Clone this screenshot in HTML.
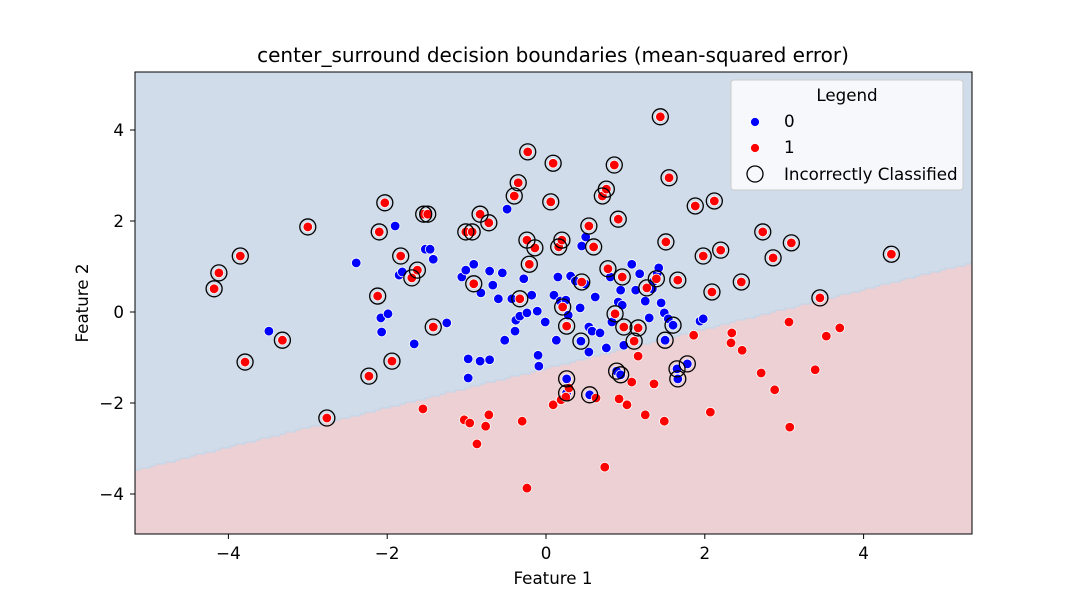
<!DOCTYPE html>
<html><head><meta charset="utf-8"><style>
body{margin:0;background:#fff;}
svg{display:block;font-family:"DejaVu Sans","Liberation Sans",sans-serif;}
</style></head><body>
<svg id="chart" width="1080" height="600" xmlns="http://www.w3.org/2000/svg">
<defs><clipPath id="clip"><rect x="135" y="72" width="837" height="462"/></clipPath></defs>
<g id="bg" clip-path="url(#clip)"></g>
<g id="pts" clip-path="url(#clip)"></g>
<rect x="135" y="72" width="837" height="462" fill="none" stroke="#000" stroke-width="1"/>
<g id="ticks"></g>
<text x="553" y="62" font-size="20" text-anchor="middle">center_surround decision boundaries (mean-squared error)</text>
<text x="553" y="584" font-size="16.7" text-anchor="middle">Feature 1</text>
<text x="88" y="303" font-size="16.7" text-anchor="middle" transform="rotate(-90 88 303)">Feature 2</text>
<g>
<rect x="731" y="80" width="232" height="110" rx="3" fill="#fff" fill-opacity="0.8" stroke="#ccc"/>
<text x="847" y="101" font-size="16.7" text-anchor="middle">Legend</text>
<circle cx="755" cy="122" r="4.5" fill="#0000ff" stroke="#fff" stroke-width="0.8"/>
<text x="784" y="127" font-size="16.7">0</text>
<circle cx="755" cy="148" r="4.5" fill="#ff0000" stroke="#fff" stroke-width="0.8"/>
<text x="784" y="153" font-size="16.7">1</text>
<circle cx="755" cy="174" r="8" fill="none" stroke="#000" stroke-width="1.3"/>
<text x="784" y="180" font-size="16.7">Incorrectly Classified</text>
</g>
</svg>
<script>
const xTicks=[-4,-2,0,2,4];
const yTicks=[-4,-2,0,2,4];
const boundary=[[-5.18,-3.47],[5.37,1.10]];
const blueX=[-2.39,-3.49,-2.08,-2.07,-1.99,-1.90,-1.85,-1.81,-1.66,-1.52,-1.46,-1.42,-1.25,-1.06,-1.01,-0.98,-0.98,-0.91,-0.83,-0.82,-0.71,-0.71,-0.67,-0.60,-0.55,-0.52,-0.49,-0.43,-0.39,-0.38,-0.33,-0.28,-0.24,-0.18,-0.11,-0.10,-0.09,-0.01,0.10,0.15,0.13,0.18,0.25,0.31,0.28,0.37,0.43,0.45,0.49,0.50,0.54,0.54,0.58,0.62,0.68,0.76,0.81,0.83,0.91,0.94,0.96,0.98,1.08,1.13,1.18,1.25,1.30,1.34,1.36,1.40,1.42,1.45,1.49,1.54,1.94,1.98,0.26,0.26,0.55,0.89,0.94,1.50,1.65,1.66,1.78,0.44,1.60];
const blueY=[1.08,-0.42,-0.13,-0.44,-0.04,1.89,0.81,0.88,-0.70,1.38,1.38,1.16,-0.24,0.77,0.92,-1.03,-1.45,1.05,-1.08,0.42,-1.05,0.90,0.59,0.29,0.86,-0.62,2.26,0.29,-0.42,-0.18,-0.09,0.73,-0.02,0.37,0.02,-0.95,-1.19,-0.22,0.37,0.77,-0.62,0.24,0.26,0.79,-0.07,0.68,0.09,1.45,0.62,1.65,-0.33,-0.88,-0.42,0.33,-0.46,-0.79,0.77,-0.22,0.22,0.48,0.15,-0.73,1.05,0.48,0.84,0.24,-0.13,0.51,0.68,0.84,0.97,0.20,-0.02,-0.15,-0.20,-0.15,-1.47,-1.78,-1.82,-1.30,-1.38,-0.62,-1.25,-1.47,-1.14,-0.64,-0.29];
const redX=[-4.18,-4.12,-3.85,-3.79,-3.32,-3.00,-2.76,-2.23,-2.12,-2.10,-2.03,-1.94,-1.83,-1.69,-1.62,-1.54,-1.49,-1.42,-1.01,-0.93,-0.91,-0.83,-0.72,-0.40,-0.35,-0.33,-0.24,-0.23,-0.21,-0.14,0.06,0.09,0.16,0.20,0.21,0.26,0.45,0.54,0.60,0.71,0.76,0.78,0.86,0.87,0.91,0.96,0.98,1.11,1.16,1.27,1.39,1.44,1.51,1.55,1.66,1.88,1.98,2.09,2.12,2.20,2.46,2.73,2.86,3.09,3.45,4.35,
-1.55,-1.03,-0.96,-0.87,-0.76,-0.72,-0.30,-0.24,0.09,0.19,0.25,0.29,0.63,0.74,0.92,1.02,1.08,1.16,1.25,1.36,1.49,1.86,2.07,2.33,2.34,2.47,2.71,2.88,3.06,3.07,3.39,3.53,3.70];
const redY=[0.51,0.86,1.23,-1.10,-0.62,1.87,-2.33,-1.41,0.35,1.76,2.40,-1.08,1.23,0.75,0.92,2.15,2.15,-0.33,1.76,1.76,0.62,2.15,1.96,2.55,2.84,0.29,1.58,3.52,1.05,1.41,2.42,3.27,1.43,1.58,0.11,-0.31,0.66,1.89,1.43,2.55,2.70,0.95,3.23,-0.04,2.04,0.77,-0.33,-0.64,-0.35,0.53,0.73,4.29,1.54,2.95,0.70,2.33,1.23,0.44,2.44,1.36,0.66,1.76,1.19,1.52,0.31,1.27,
-2.13,-2.37,-2.44,-2.90,-2.51,-2.26,-2.40,-3.87,-2.04,-1.93,-1.87,-1.67,-1.89,-3.41,-1.91,-2.04,-1.54,-0.97,-2.26,-1.58,-2.40,-0.51,-2.20,-0.68,-0.46,-0.84,-1.34,-1.71,-0.22,-2.53,-1.27,-0.53,-0.35];
// misclassified: first 66 red points and last 11 blue points
const redWrongCount=66;
const blueWrongCount=11;

const X0=546,XS=79.4,Y0=312,YS=45.5;
const sx=v=>X0+v*XS, sy=v=>Y0-v*YS;
const NS="http://www.w3.org/2000/svg";
function mk(tag,attrs,parent){const e=document.createElementNS(NS,tag);for(const k in attrs)e.setAttribute(k,attrs[k]);parent.appendChild(e);return e;}
const bg=document.getElementById('bg'),pts=document.getElementById('pts'),tk=document.getElementById('ticks');
const r1=mk('rect',{x:135,y:72,width:837,height:462,fill:'#d0dce9'},bg);


const [b0,b1]=boundary;const slope=(b1[1]-b0[1])/(b1[0]-b0[0]);
let d='M135,534';const step=5;
for(let px=135;px<=975;px+=step){const xv=(px-X0)/XS;const yv=b0[1]+slope*(xv-b0[0]);const py=Math.round(sy(yv)/2)*2;d+=` L${px},${py} L${px+step},${py}`;}
d+=' L975,534 Z';
const poly=mk('path',{d:d,fill:'#edd0d4',stroke:'#c4d6e8',"stroke-width":1.2},bg);


for(let i=0;i<blueX.length;i++){const c=mk('circle',{cx:sx(blueX[i]),cy:sy(blueY[i]),r:4.8,fill:'#0000ff',stroke:'#fff','stroke-width':0.8},pts);

}
for(let i=0;i<redX.length;i++){const c=mk('circle',{cx:sx(redX[i]),cy:sy(redY[i]),r:4.8,fill:'#ff0000',stroke:'#fff','stroke-width':0.8},pts);

}
for(let i=0;i<redWrongCount;i++){const c=mk('circle',{cx:sx(redX[i]),cy:sy(redY[i]),r:8,fill:'none',stroke:'#000','stroke-width':1.3},pts);

}
for(let i=blueX.length-blueWrongCount;i<blueX.length;i++){const c=mk('circle',{cx:sx(blueX[i]),cy:sy(blueY[i]),r:8,fill:'none',stroke:'#000','stroke-width':1.3},pts);

}
xTicks.forEach(v=>{const l=mk('line',{x1:sx(v),x2:sx(v),y1:534,y2:539,stroke:'#000'},tk);


const t=mk('text',{x:sx(v),y:559,'font-size':16.7,'text-anchor':'middle'},tk);t.textContent=v<0?'−'+(-v):v;

});
yTicks.forEach(v=>{const l=mk('line',{x1:130,x2:135,y1:sy(v),y2:sy(v),stroke:'#000'},tk);


const t=mk('text',{x:124,y:sy(v)+6,'font-size':16.7,'text-anchor':'end'},tk);t.textContent=v<0?'−'+(-v):v;

});
</script>
</body></html>
